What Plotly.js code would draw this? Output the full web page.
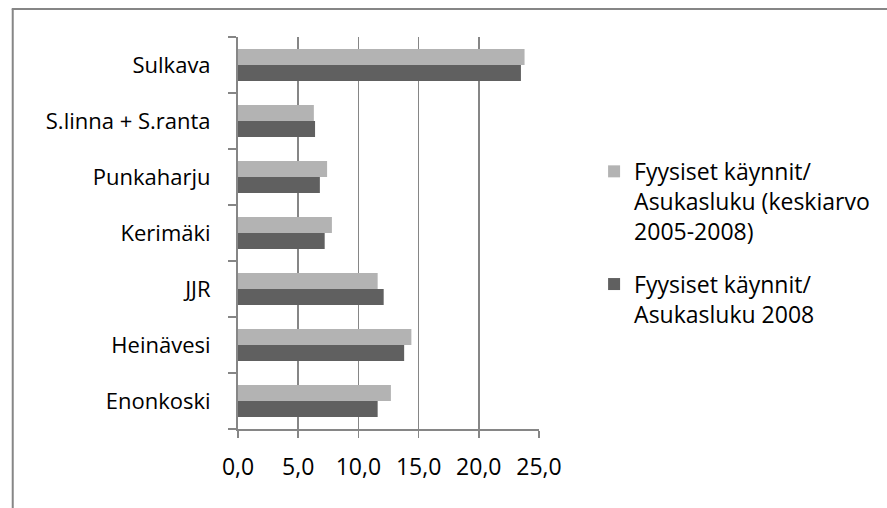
<!DOCTYPE html>
<html>
<head>
<meta charset="utf-8">
<script src="https://cdn.plot.ly/plotly-3.0.1.min.js"></script>
<style>
html,body{margin:0;padding:0;background:#fff;}
#chart{width:887px;height:508px;}
</style>
</head>
<body>
<div id="chart"></div>
<script>
var categories = ["Enonkoski", "Heinävesi", "JJR", "Kerimäki", "Punkaharju", "S.linna + S.ranta", "Sulkava"];
var seriesAvgName = "Fyysiset käynnit/<br>Asukasluku (keskiarvo<br>2005-2008)";
var series2008Name = "Fyysiset käynnit/<br>Asukasluku 2008";
var valuesAvg = [12.7, 14.4, 11.6, 7.8, 7.4, 6.3, 23.8];
var values2008 = [11.6, 13.8, 12.1, 7.2, 6.8, 6.4, 23.5];
var xTickVals = [0, 5, 10, 15, 20, 25];

var FONT = "Open Sans, sans-serif";
var GRID = "#868686";

var traces = [
  {type: "bar", orientation: "h", name: series2008Name, y: categories, x: values2008,
   marker: {color: "#606060"}, legendgroup: "b", legendrank: 2, hoverinfo: "x+y"},
  {type: "bar", orientation: "h", name: seriesAvgName, y: categories, x: valuesAvg,
   marker: {color: "#b3b3b3"}, legendgroup: "a", legendrank: 1, hoverinfo: "x+y"}
];

var layout = {
  width: 887, height: 508,
  margin: {l: 238, r: 343, t: 37, b: 79, pad: 0},
  paper_bgcolor: "#ffffff", plot_bgcolor: "#ffffff",
  separators: ", ",
  font: {family: FONT, size: 22, color: "#000000"},
  barmode: "group", bargap: 0.43, bargroupgap: 0,
  showlegend: true,
  legend: {x: 1.183, xanchor: "left", y: 0.712, yanchor: "top", valign: "top",
           traceorder: "grouped", tracegroupgap: 20,
           font: {family: FONT, size: 23, color: "#000000"}, bgcolor: "rgba(0,0,0,0)"},
  xaxis: {range: [0, 25], tickvals: xTickVals, tickformat: ".1f",
          showgrid: true, gridcolor: GRID, gridwidth: 1.5, zeroline: false,
          showline: true, linecolor: GRID, linewidth: 2,
          ticks: "outside", ticklen: 7, tickcolor: GRID, tickwidth: 1.5,
          ticklabelstandoff: 9,
          tickfont: {family: FONT, size: 23, color: "#000000"}, fixedrange: true},
  yaxis: {type: "category", categoryorder: "array", categoryarray: categories,
          showgrid: false, zeroline: false, showline: true, linecolor: GRID, linewidth: 2,
          ticks: "outside", tickson: "boundaries", ticklen: 8, tickcolor: GRID, tickwidth: 2,
          ticklabelstandoff: 21,
          tickfont: {family: FONT, size: 22, color: "#000000"}, fixedrange: true},
  shapes: [
    {type: "line", xref: "paper", yref: "paper", x0: -0.7484, x1: -0.7484, y0: 1.0714, y1: -0.25,
     line: {color: GRID, width: 2}},
    {type: "line", xref: "paper", yref: "paper", x0: -0.7517, x1: 2.2, y0: 1.0714, y1: 1.0714,
     line: {color: GRID, width: 2}}
  ]
};

Plotly.newPlot("chart", traces, layout, {displayModeBar: false, staticPlot: true});
</script>
</body>
</html>
